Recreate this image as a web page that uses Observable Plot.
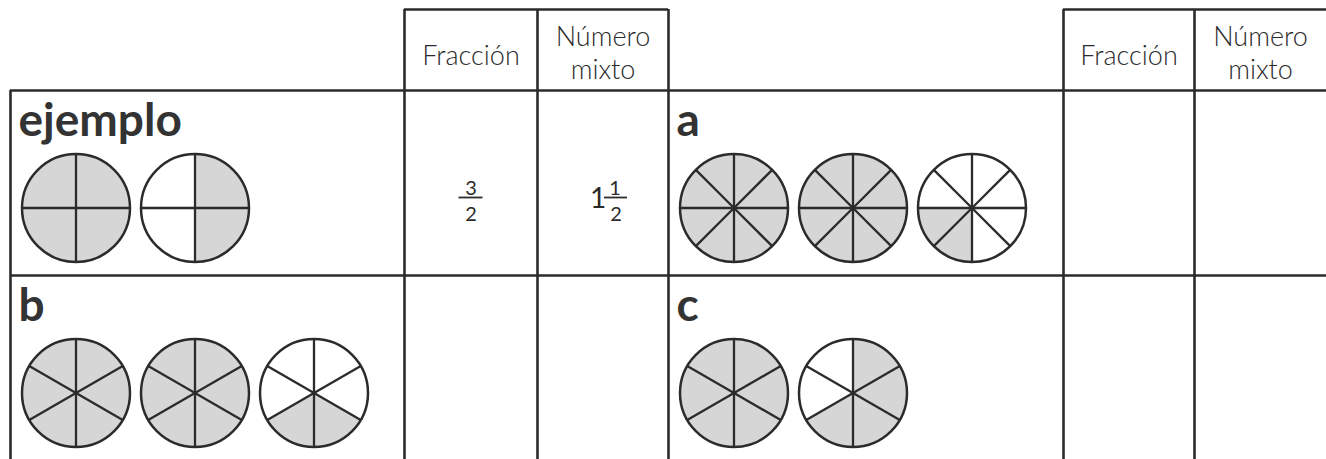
<!DOCTYPE html>
<html>
<head>
<meta charset="utf-8">
<script src="https://cdn.jsdelivr.net/npm/d3@7"></script>
<script src="https://cdn.jsdelivr.net/npm/@observablehq/plot@0.6"></script>
<style>
  html, body { margin: 0; padding: 0; background: #ffffff; }
  #chart svg { display: block; }
</style>
</head>
<body>
<div id="chart"></div>
<script>
// ---------- data ----------
const panels = ["ejemplo", "a", "b", "c"];
const parts = [4, 8, 6, 6];                 // pieces per circle in each panel
const circlesPerPanel = [2, 3, 3, 2];
// indices of the shaded pieces (clockwise from the top) for every circle
const shadedPieces = [
  [[0, 1, 2, 3], [0, 1]],
  [[0, 1, 2, 3, 4, 5, 6, 7], [0, 1, 2, 3, 4, 5, 6, 7], [4, 5]],
  [[0, 1, 2, 3, 4, 5], [0, 1, 2, 3, 4, 5], [2, 3]],
  [[0, 1, 2, 3, 4, 5], [0, 1, 2, 3]]
];
const headerFraction = "Fracción";
const headerMixed = ["Número", "mixto"];
const exampleFraction = [3, 2];      // numerator, denominator
const exampleMixed = [1, 1, 2];      // whole, numerator, denominator

// ---------- layout ----------
const W = 1326, H = 459;
const ink = "#2b2b2b", gray = "#d6d6d6";
const panelX = [10, 668];            // left edge of the picture cells
const fracX = [404, 1063];           // left edge of "Fracción" columns
const mixX = [537, 1194];            // left edge of "Número mixto" columns
const colEnd = [668, 1326];
const headTop = 9, rowTop = [90, 275];
const R = 54, gap = 119, offX = 65.5, offY = 117.5;

const circles = [], sectors = [], radials = [];
panels.forEach((p, i) => {
  const col = i % 2, row = Math.floor(i / 2);
  const n = parts[i];
  for (let k = 0; k < circlesPerPanel[i]; k++) {
    const cx = panelX[col] + offX + k * gap, cy = rowTop[row] + offY;
    circles.push({cx, cy});
    for (let s = 0; s < n; s++) {
      const a = (s * 2 * Math.PI) / n;
      radials.push({cx, cy, x: cx + R * Math.sin(a), y: cy - R * Math.cos(a)});
    }
    shadedPieces[i][k].forEach(s => {
      const id = `${i}-${k}-${s}`;
      const a0 = (s * 2 * Math.PI) / n, a1 = ((s + 1) * 2 * Math.PI) / n;
      sectors.push({id, x: cx, y: cy});
      const steps = 24;
      for (let t = 0; t <= steps; t++) {
        const a = a0 + (a1 - a0) * t / steps;
        sectors.push({id, x: cx + R * Math.sin(a), y: cy - R * Math.cos(a)});
      }
      sectors.push({id, x: cx, y: cy});
    });
  }
});

const labels = panels.map((p, i) => ({
  text: p, x: panelX[i % 2] + 8, y: rowTop[Math.floor(i / 2)] + 45
}));

// table lines
const hLines = [
  {y: headTop, x1: fracX[0], x2: colEnd[0]},
  {y: headTop, x1: fracX[1], x2: colEnd[1]},
  {y: rowTop[0], x1: panelX[0], x2: W},
  {y: rowTop[1], x1: panelX[0], x2: W}
];
const vLines = [
  {x: panelX[0], y1: rowTop[0], y2: H},
  ...[fracX[0], mixX[0], colEnd[0], fracX[1], mixX[1]].map(x => ({x, y1: headTop, y2: H}))
];

const headerTexts = [];
[0, 1].forEach(c => {
  headerTexts.push({text: headerFraction, x: (fracX[c] + mixX[c]) / 2, y: 64});
  headerTexts.push({text: headerMixed[0], x: (mixX[c] + colEnd[c]) / 2, y: 45});
  headerTexts.push({text: headerMixed[1], x: (mixX[c] + colEnd[c]) / 2, y: 78});
});

// example answers
const fcx = (fracX[0] + mixX[0]) / 2, mcx = (mixX[0] + colEnd[0]) / 2;
const ansY = rowTop[0] + 107;
const smallNums = [
  {text: String(exampleFraction[0]), x: fcx, y: ansY - 3},
  {text: String(exampleFraction[1]), x: fcx, y: ansY + 23},
  {text: String(exampleMixed[1]), x: mcx + 12, y: ansY - 3},
  {text: String(exampleMixed[2]), x: mcx + 13, y: ansY + 23}
];
const bars = [
  {y: ansY, x1: fcx - 12, x2: fcx + 12},
  {y: ansY, x1: mcx + 1.5, x2: mcx + 24.5}
];
const wholes = [{text: String(exampleMixed[0]), x: mcx - 5, y: ansY + 10}];

const font = "Lato, 'Open Sans', sans-serif";
const plot = Plot.plot({
  width: W, height: H, margin: 0,
  x: {domain: [0, W], range: [0, W], axis: null},
  y: {domain: [0, H], range: [0, H], axis: null},
  style: {background: "#ffffff"},
  marks: [
    Plot.line(sectors, {x: "x", y: "y", z: "id", fill: gray, stroke: "none"}),
    Plot.link(radials, {x1: "cx", y1: "cy", x2: "x", y2: "y", stroke: ink, strokeWidth: 2.3}),
    Plot.dot(circles, {x: "cx", y: "cy", r: R, stroke: ink, strokeWidth: 2.5, fill: "none"}),
    Plot.ruleY(hLines, {y: "y", x1: "x1", x2: "x2", stroke: ink, strokeWidth: 2.6}),
    Plot.ruleX(vLines, {x: "x", y1: "y1", y2: "y2", stroke: ink, strokeWidth: 2.6}),
    Plot.text(labels, {x: "x", y: "y", text: "text", fontSize: 46, fontWeight: "bold",
      fontFamily: font, textAnchor: "start", lineAnchor: "bottom", fill: "#333"}),
    Plot.text(headerTexts, {x: "x", y: "y", text: "text", fontSize: 27, fontWeight: 300,
      fontFamily: font, lineAnchor: "bottom", fill: ink}),
    Plot.text(smallNums, {x: "x", y: "y", text: "text", fontSize: 20, fontFamily: font,
      lineAnchor: "bottom", fill: ink}),
    Plot.text(wholes, {x: "x", y: "y", text: "text", fontSize: 28, fontFamily: font,
      lineAnchor: "bottom", fill: ink}),
    Plot.ruleY(bars, {y: "y", x1: "x1", x2: "x2", stroke: ink, strokeWidth: 1.8})
  ]
});
document.getElementById("chart").appendChild(plot);
</script>
</body>
</html>
